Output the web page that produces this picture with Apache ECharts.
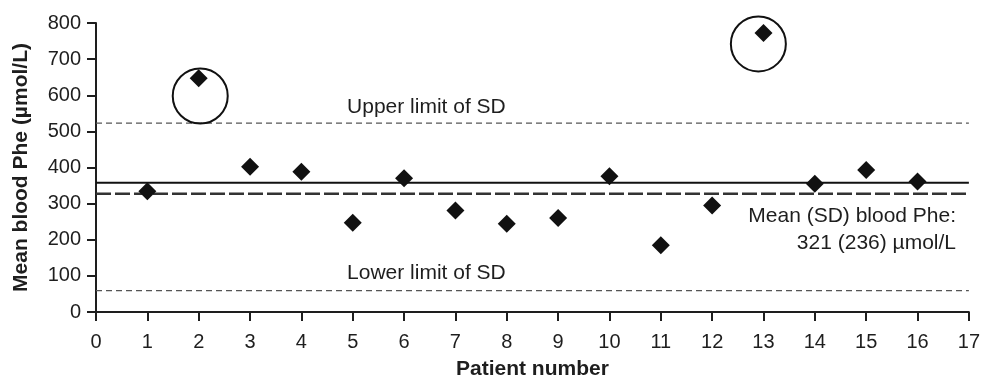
<!DOCTYPE html>
<html>
<head>
<meta charset="utf-8">
<script src="https://cdn.jsdelivr.net/npm/echarts@6/dist/echarts.min.js"></script>
<style>
  html, body { margin: 0; padding: 0; background: #fff; }
  #chart { width: 983px; height: 385px; }
</style>
</head>
<body>
<div id="chart"></div>
<script>
  // patient numbers and their mean blood Phe (µmol/L)
  const patients = [1, 2, 3, 4, 5, 6, 7, 8, 9, 10, 11, 12, 13, 14, 15, 16];
  const phe = [334, 647, 402, 388, 247, 370, 281, 244, 260, 376, 185, 295, 772, 355, 393, 361];

  // horizontal reference levels
  const solidLevel = 358;
  const meanLevel = 327;
  const upperSD = 523;
  const lowerSD = 59;

  // circled outliers (centre of ring, data space)
  const circled = [[2.03, 598], [12.9, 742]];

  const xTicks = [0, 17, 1];   // min, max, interval
  const yTicks = [0, 800, 100];

  const ink = "#1e1e1e";
  const font = "'Liberation Sans', Arial, Helvetica, sans-serif";

  const chart = echarts.init(document.getElementById("chart"));

  function hLine(level, style) {
    return {
      type: "line",
      data: [[xTicks[0], level], [xTicks[1], level]],
      symbol: "none",
      silent: true,
      lineStyle: style,
      z: 1
    };
  }

  // text annotation anchored in data space
  function note(x, y, text, pos) {
    return {
      type: "scatter",
      data: [[x, y]],
      symbolSize: 1,
      itemStyle: { color: "transparent", opacity: 1 },
      silent: true,
      label: {
        show: true,
        position: pos,
        distance: 0,
        formatter: text,
        color: ink,
        fontFamily: font,
        fontSize: 21,
        lineHeight: 27,
        align: pos === "left" ? "right" : "left"
      }
    };
  }

  const option = {
    animation: false,
    grid: { left: 96, right: 13, top: 23, bottom: 70 },
    xAxis: {
      type: "value",
      min: xTicks[0],
      max: xTicks[1],
      interval: xTicks[2],
      name: "Patient number",
      nameLocation: "middle",
      nameGap: 47,
      nameTextStyle: { fontFamily: font, fontSize: 21, fontWeight: "bold", color: ink },
      axisLine: { lineStyle: { color: ink, width: 2 } },
      axisTick: { show: true, length: 9, lineStyle: { color: ink, width: 2 } },
      axisLabel: { fontFamily: font, fontSize: 20, color: ink, margin: 20 },
      splitLine: { show: false }
    },
    yAxis: {
      type: "value",
      min: yTicks[0],
      max: yTicks[1],
      interval: yTicks[2],
      name: "Mean blood Phe (µmol/L)",
      nameLocation: "middle",
      nameGap: 64,
      nameTextStyle: { fontFamily: font, fontSize: 21, fontWeight: "bold", color: ink },
      axisLine: { show: true, lineStyle: { color: ink, width: 2 } },
      axisTick: { show: true, length: 9, lineStyle: { color: ink, width: 2 } },
      axisLabel: { fontFamily: font, fontSize: 20, color: ink, margin: 15 },
      splitLine: { show: false }
    },
    series: [
      hLine(upperSD, { color: "#555", width: 1.3, type: [6, 4] }),
      hLine(lowerSD, { color: "#555", width: 1.3, type: [6, 4] }),
      hLine(solidLevel, { color: "#111", width: 2 }),
      hLine(meanLevel, { color: "#333", width: 2.5, type: [15, 4] }),
      {
        type: "scatter",
        data: patients.map((p, i) => [p, phe[i]]),
        symbol: "diamond",
        symbolSize: 18,
        itemStyle: { color: "#111", opacity: 1 },
        z: 3
      },
      {
        type: "scatter",
        data: circled,
        symbol: "circle",
        symbolSize: 55,
        silent: true,
        itemStyle: { color: "transparent", borderColor: "#111", borderWidth: 2, opacity: 1 },
        z: 2
      },
      note(4.88, 568, "Upper limit of SD", "right"),
      note(4.88, 107, "Lower limit of SD", "right"),
      note(16.76, 229, "Mean (SD) blood Phe:\n321 (236) µmol/L", "left")
    ]
  };

  chart.setOption(option);
  window.addEventListener("resize", () => chart.resize());
</script>
</body>
</html>
